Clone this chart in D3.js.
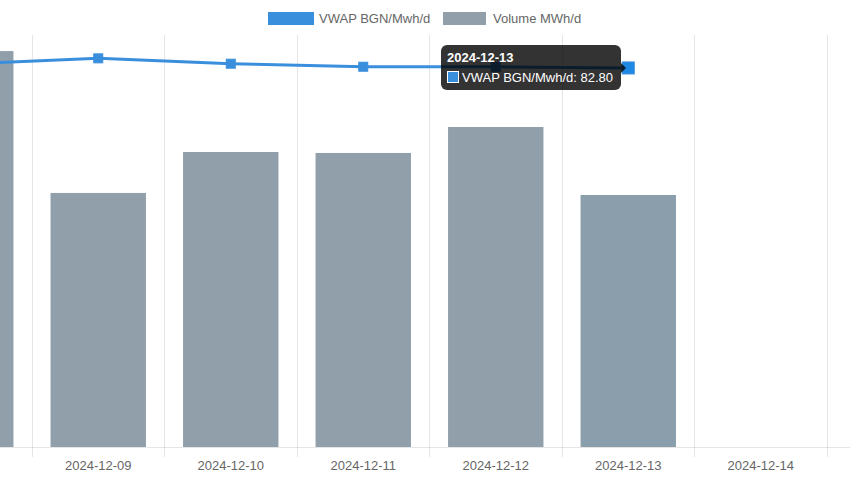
<!DOCTYPE html>
<html><head><meta charset="utf-8">
<script src="https://cdn.jsdelivr.net/npm/d3@7"></script>
<style>html,body{margin:0;padding:0;background:#fff;overflow:hidden}svg{display:block}</style>
</head><body>
<svg id="c" width="850" height="480"></svg>
<script>
const categories = ["2024-12-08","2024-12-09","2024-12-10","2024-12-11","2024-12-12","2024-12-13","2024-12-14"];
const volume = [2883, 1850, 2148, 2141, 2330, 1835, null];
const vwap = [83.7, 84.9, 83.73, 83.07, 83.05, 82.80, null];
const seriesNames = ["VWAP BGN/Mwh/d", "Volume MWh/d"];
const activeIndex = 5;

(function(){
const svg = d3.select("#c");
const font = "'Liberation Sans', Arial, Helvetica, sans-serif";
const plotTop = 35, plotBottom = 447;
const blue = "#3a8fdd", grey = "#919fab", greyHover = "#8a9fab";

const x = d3.scaleBand().domain(categories).range([-100.5, 827]).paddingInner(0).paddingOuter(0);
const yVol = d3.scaleLinear().domain([0, 3000]).range([plotBottom, plotTop]);
const yV = d3.scaleLinear().domain([0, 90]).range([plotBottom, plotTop]);
const step = x.step();

// gridlines
const g = svg.append("g");
const edges = categories.map(c => x(c)).concat([x(categories[categories.length-1]) + step]);
g.selectAll("line.grid").data(edges).join("line")
  .attr("x1", d => Math.floor(d) + 0.5).attr("x2", d => Math.floor(d) + 0.5).attr("y1", plotTop).attr("y2", plotBottom + 10)
  .attr("stroke", "rgba(0,0,0,0.1)").attr("stroke-width", 1);
g.append("line").attr("x1", 0).attr("x2", 850).attr("y1", plotBottom + 0.5).attr("y2", plotBottom + 0.5)
  .attr("stroke", "rgba(0,0,0,0.1)");

// bars
svg.append("g").selectAll("rect").data(categories.map((c,i)=>({c, v: volume[i], i})).filter(d => d.v != null))
  .join("rect")
  .attr("x", d => x(d.c) + step * 0.14)
  .attr("width", step * 0.72)
  .attr("y", d => yVol(d.v))
  .attr("height", d => plotBottom - yVol(d.v))
  .attr("fill", d => d.i === activeIndex ? greyHover : grey);

// x axis labels (only those inside the visible window)
const visible = categories.filter(c => x(c) + step / 2 > 0);
const xAxis = d3.axisBottom(x).tickValues(visible).tickSize(0).tickPadding(0);
const ax = svg.append("g").attr("transform", `translate(0,${plotBottom})`).call(xAxis);
ax.select(".domain").remove();
ax.selectAll("text").attr("y", 22.5).attr("dy", 0).attr("fill", "#666")
  .style("font-family", font).style("font-size", "13px");

// line
const pts = categories.map((c,i)=>({c, v: vwap[i], i})).filter(d => d.v != null);
const line = d3.line().x(d => x(d.c) + step/2).y(d => yV(d.v));
svg.append("path").datum(pts).attr("d", line).attr("fill", "none")
  .attr("stroke", blue).attr("stroke-width", 3).attr("stroke-linejoin","round");
svg.append("g").selectAll("rect").data(pts).join("rect")
  .attr("x", d => x(d.c) + step/2 - (d.i === activeIndex ? 6 : 4.5))
  .attr("y", d => yV(d.v) - (d.i === activeIndex ? 6 : 4.5))
  .attr("width", d => d.i === activeIndex ? 12 : 9)
  .attr("height", d => d.i === activeIndex ? 12 : 9)
  .attr("fill", d => d.i === activeIndex ? "#1e88e5" : blue)
  .attr("stroke", blue).attr("stroke-width", 1);

// legend
const lg = svg.append("g").style("font-family", font).style("font-size", "13px");
lg.append("rect").attr("x", 268).attr("y", 12).attr("width", 46).attr("height", 13).attr("fill", blue);
lg.append("text").attr("x", 319).attr("y", 22.5).attr("fill", "#666").text(seriesNames[0]);
lg.append("rect").attr("x", 443).attr("y", 12).attr("width", 43).attr("height", 13).attr("fill", grey);
lg.append("text").attr("x", 493).attr("y", 22.5).attr("fill", "#666").text(seriesNames[1]);

// tooltip
const py = yV(vwap[activeIndex]);
const tt = svg.append("g").style("font-family", font).style("font-size", "13px");
const tx = 441, tw = 180, ty = 45, th = 45;
tt.append("rect").attr("x", tx).attr("y", ty).attr("width", tw).attr("height", th).attr("rx", 6)
  .attr("fill", "rgba(0,0,0,0.8)");
tt.append("path").attr("d", `M${tx+tw},${py-5}L${tx+tw+5},${py}L${tx+tw},${py+5}Z`).attr("fill", "rgba(0,0,0,0.8)");
tt.append("text").attr("x", 447).attr("y", 62).attr("fill", "#fff").attr("font-weight", "bold")
  .text(categories[activeIndex]);
tt.append("rect").attr("x", 447.5).attr("y", 71.5).attr("width", 11).attr("height", 11)
  .attr("fill", blue).attr("stroke", "#fff").attr("stroke-width", 1);
tt.append("text").attr("x", 462).attr("y", 82).attr("fill", "#fff")
  .text(`${seriesNames[0]}: ${vwap[activeIndex].toFixed(2)}`);
})();
</script>
</body></html>
